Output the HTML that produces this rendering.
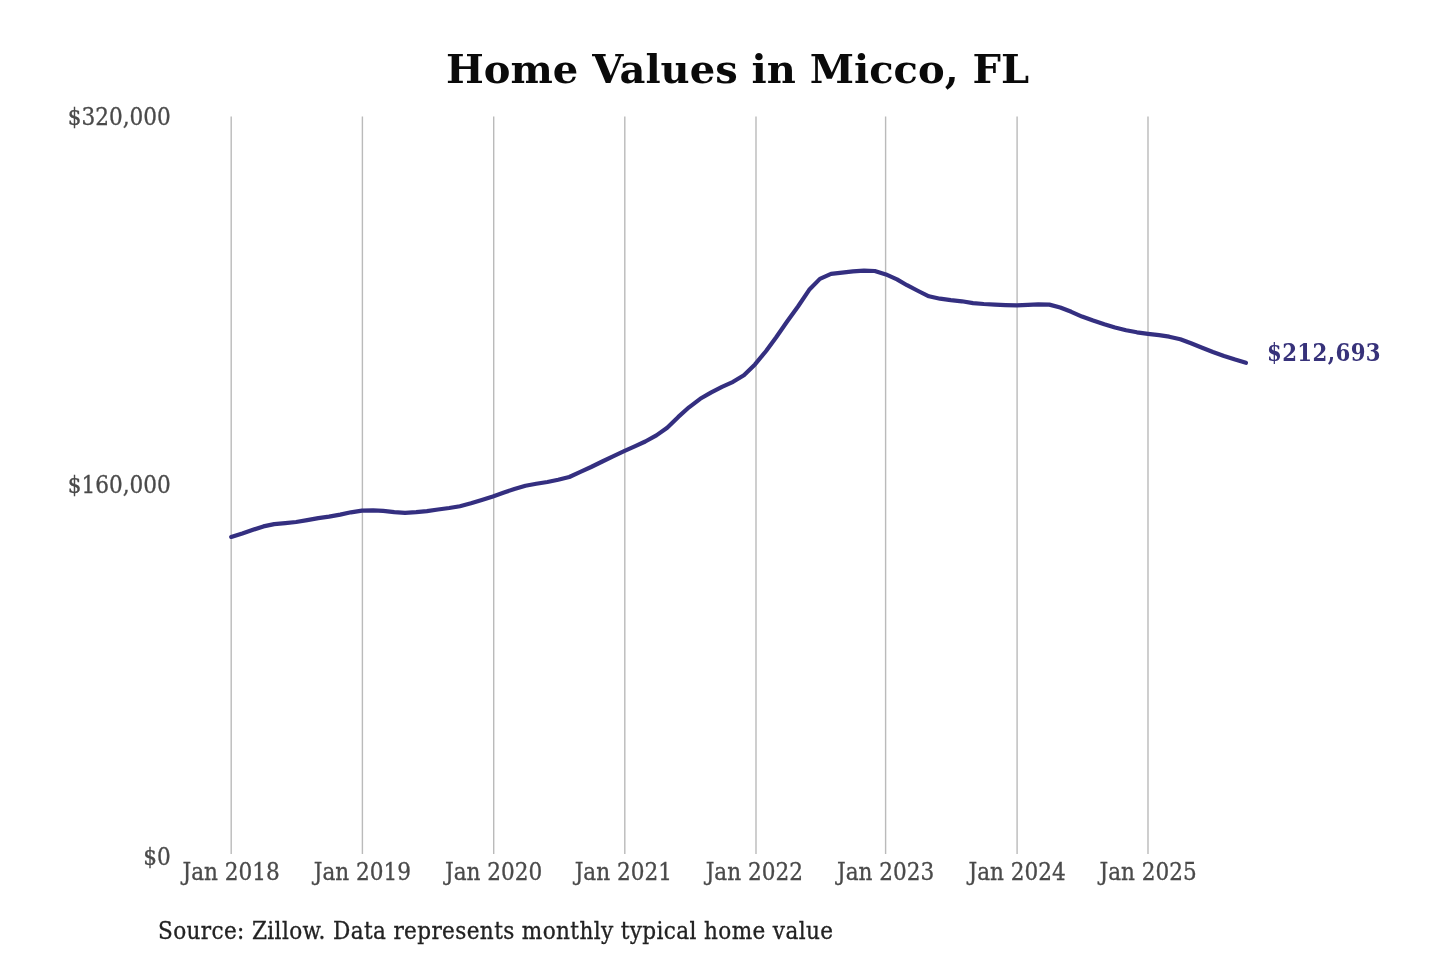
<!DOCTYPE html>
<html lang="en">
<head>
<meta charset="utf-8">
<title>Home Values in Micco, FL</title>
<style>
html,body{margin:0;padding:0;background:#fff;}
body{width:1440px;height:960px;overflow:hidden;font-family:"DejaVu Serif","Liberation Serif",serif;}
svg{display:block;}
svg text{font-family:"DejaVu Serif","Liberation Serif",serif;font-stretch:normal;}
.grid line{stroke:#bababa;stroke-width:1.4;}
.tick text{font-size:24px;fill:#4a4a4a;font-stretch:condensed;stroke:#4a4a4a;stroke-width:0.3px;}
.title{font-size:40px;font-weight:bold;fill:#0a0a0a;}
.src{font-size:24px;fill:#222;font-stretch:condensed;letter-spacing:0.37px;stroke:#222;stroke-width:0.3px;}
.end{font-size:23.6px;font-weight:bold;fill:#37327a;font-stretch:condensed;letter-spacing:0.4px;}
.ln{fill:none;stroke:#342f80;stroke-width:4.2;stroke-linejoin:round;stroke-linecap:round;}
</style>
</head>
<body>
<svg width="1440" height="960" viewBox="0 0 1440 960">
<rect width="1440" height="960" fill="#ffffff"/>
<g class="grid">
<line x1="231.2" y1="116.5" x2="231.2" y2="854" />
<line x1="362.4" y1="116.5" x2="362.4" y2="854" />
<line x1="493.7" y1="116.5" x2="493.7" y2="854" />
<line x1="624.8" y1="116.5" x2="624.8" y2="854" />
<line x1="756.0" y1="116.5" x2="756.0" y2="854" />
<line x1="885.6" y1="116.5" x2="885.6" y2="854" />
<line x1="1017.1" y1="116.5" x2="1017.1" y2="854" />
<line x1="1148.0" y1="116.5" x2="1148.0" y2="854" />
</g>
<g class="tick">
<text x="170.7" y="125" text-anchor="end">$320,000</text>
<text x="170.7" y="493.2" text-anchor="end">$160,000</text>
<text x="170.7" y="865" text-anchor="end">$0</text>
<text x="231.2" y="880" text-anchor="middle">Jan 2018</text>
<text x="362.4" y="880" text-anchor="middle">Jan 2019</text>
<text x="493.7" y="880" text-anchor="middle">Jan 2020</text>
<text x="623.3" y="880" text-anchor="middle">Jan 2021</text>
<text x="754.3" y="880" text-anchor="middle">Jan 2022</text>
<text x="885.7" y="880" text-anchor="middle">Jan 2023</text>
<text x="1017.2" y="880" text-anchor="middle">Jan 2024</text>
<text x="1148.1" y="880" text-anchor="middle">Jan 2025</text>
</g>
<text class="title" x="737.5" y="83" text-anchor="middle">Home Values in Micco, FL</text>
<path class="ln" d="M231.2,536.9 L242.3,533.4 L252.3,530.0 L263.4,526.4 L274.2,524.1 L285.3,523.1 L296.1,522.0 L307.2,520.1 L318.3,518.1 L329.0,516.6 L340.2,514.6 L350.9,512.3 L362.0,510.6 L373.1,510.3 L383.2,510.9 L394.3,512.2 L405.1,512.9 L416.2,512.2 L426.9,511.1 L438.0,509.5 L449.2,508.0 L459.9,506.2 L471.0,503.3 L481.8,500.0 L492.9,496.4 L504.0,492.5 L514.4,489.0 L525.5,485.7 L536.3,483.8 L547.4,482.0 L558.2,479.8 L569.3,477.0 L580.4,471.9 L591.1,467.0 L602.3,461.5 L613.0,456.3 L624.1,451.2 L635.3,446.1 L645.3,441.5 L656.4,435.4 L667.2,427.7 L678.3,416.9 L689.0,407.3 L700.2,398.8 L711.3,392.4 L722.0,386.9 L733.1,381.8 L743.9,375.2 L755.0,364.4 L766.1,351.0 L776.2,337.2 L787.3,321.3 L798.0,306.5 L809.2,289.8 L819.9,278.9 L831.0,273.8 L842.1,272.6 L852.9,271.3 L864.0,270.6 L874.8,271.0 L885.9,274.4 L897.0,279.4 L907.0,285.2 L918.2,291.0 L928.9,296.3 L940.0,298.7 L950.8,300.2 L961.9,301.3 L973.0,303.1 L983.8,304.0 L994.9,304.6 L1005.6,305.1 L1016.8,305.4 L1027.9,304.8 L1038.3,304.3 L1049.4,304.6 L1060.2,307.5 L1071.3,311.8 L1082.0,316.6 L1093.1,320.6 L1104.3,324.3 L1115.0,327.5 L1126.1,330.2 L1136.9,332.3 L1148.0,333.8 L1159.1,335.2 L1169.2,336.7 L1180.3,339.3 L1191.0,343.3 L1202.1,347.8 L1212.9,352.0 L1224.0,356.0 L1235.1,359.6 L1245.9,362.8"/>
<text class="end" x="1267" y="361">$212,693</text>
<text class="src" x="158" y="939">Source: Zillow. Data represents monthly typical home value</text>
</svg>
</body>
</html>
